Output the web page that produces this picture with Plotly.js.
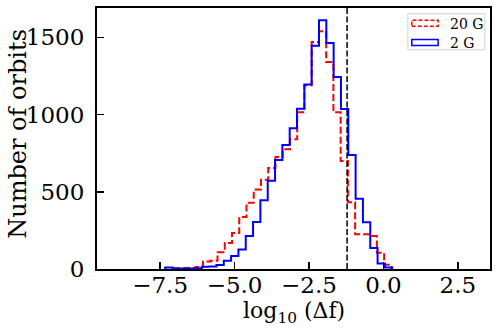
<!DOCTYPE html>
<html>
<head>
<meta charset="utf-8">
<script src="https://cdn.plot.ly/plotly-3.0.1.min.js"></script>
<style>body{margin:0;background:#fff;} #chart{width:499px;height:335px;}</style>
</head>
<body>
<div id="chart"></div>
<script>
// histogram bins, x is log10(delta f)
const redStart = -7.032, redWidth = 0.2433;
const redCounts = [5, 6, 8, 13, 49, 54, 108, 168, 233, 337, 429, 514, 578, 654, 725, 775, 840,
                   1015, 1190, 1470, 1540, 1340, 1015, 700, 432, 225, 225, 213, 106, 28];
const blueStart = -7.33, blueWidth = 0.246;
const blueCounts = [10, 4, 4, 4, 5, 14, 16, 26, 54, 84, 127, 214, 305, 445, 572, 705, 803, 911,
                    1038, 1194, 1446, 1610, 1464, 1243, 1036, 738, 455, 302, 136, 35, 10];
const cutLine = -1.22;
const seriesNames = ["20 G", "2 G"];
const xTicks = [-7.5, -5.0, -2.5, 0.0, 2.5];
const yTicks = [0, 500, 1000, 1500];
const xLabel = "log<sub>10</sub> (Δf)";
const yLabel = "Number of orbits";

function stepLine(start, width, counts){ //outline of a step histogram
    let xs = [start], ys = [0];
    for(let i = 0; i < counts.length; i++){
        xs.push(start + i*width);
        ys.push(counts[i]);
    }
    xs.push(start + counts.length*width);
    ys.push(0);
    return {x: xs, y: ys};
}

const red = stepLine(redStart, redWidth, redCounts);
const blue = stepLine(blueStart, blueWidth, blueCounts);

var data = [
    {x: red.x, y: red.y, type: "scatter", mode: "lines", name: seriesNames[0],
     line: {shape: "hv", color: "#ff0000", width: 2, dash: "7px,3px"}},
    {x: blue.x, y: blue.y, type: "scatter", mode: "lines", name: seriesNames[1],
     line: {shape: "hv", color: "#0000ff", width: 2}}
];

const serif = "DejaVu Serif";
const axisStyle = {
    showline: true, mirror: true, linecolor: "#000", linewidth: 2,
    ticks: "inside", ticklen: 7, tickwidth: 1.5, tickcolor: "#000",
    showgrid: false, zeroline: false,
    tickfont: {family: serif, size: 23, color: "#000"}
};

// hand made legend, box + patches in paper coords
const legendShapes = [
    {type: "rect", xref: "paper", yref: "paper", x0: 0.791, x1: 0.987, y0: 0.84, y1: 0.978,
     line: {color: "#d0d0d0", width: 1}, fillcolor: "rgba(255,255,255,0.8)"},
    {type: "rect", xref: "paper", yref: "paper", x0: 0.801, x1: 0.868, y0: 0.93, y1: 0.953,
     line: {color: "#ff0000", width: 1.5, dash: "4px,2px"}},
    {type: "rect", xref: "paper", yref: "paper", x0: 0.801, x1: 0.868, y0: 0.856, y1: 0.879,
     line: {color: "#0000ff", width: 1.5}}
];

const layout = {
    width: 499, height: 335,
    margin: {l: 97, r: 9, t: 8, b: 66},
    paper_bgcolor: "#fff", plot_bgcolor: "#fff",
    showlegend: false,
    xaxis: Object.assign({}, axisStyle, {
        range: [-9.62, 3.58], tickvals: xTicks, tickformat: ".1f", ticklabelstandoff: -6
    }),
    yaxis: Object.assign({}, axisStyle, {
        range: [0, 1690], tickvals: yTicks, ticklabelstandoff: 6
    }),
    shapes: [
        {type: "line", xref: "x", yref: "paper", x0: cutLine, x1: cutLine, y0: 0, y1: 1,
         line: {color: "#000", width: 1.5, dash: "6px,2.5px"}}
    ].concat(legendShapes),
    annotations: [
        // axis titles placed by hand
        {xref: "paper", yref: "paper", x: 0.5, y: -0.166, xanchor: "center", yanchor: "middle",
         text: xLabel, showarrow: false, font: {family: serif, size: 22, color: "#000"}},
        {xref: "paper", yref: "paper", x: -0.201, y: 0.518, xanchor: "center", yanchor: "middle",
         textangle: -90, text: yLabel, showarrow: false, font: {family: serif, size: 24, color: "#000"}},
        {xref: "paper", yref: "paper", x: 0.893, y: 0.94, xanchor: "left", yanchor: "middle",
         text: seriesNames[0], showarrow: false, font: {family: serif, size: 14, color: "#000"}},
        {xref: "paper", yref: "paper", x: 0.893, y: 0.866, xanchor: "left", yanchor: "middle",
         text: seriesNames[1], showarrow: false, font: {family: serif, size: 14, color: "#000"}}
    ]
};

Plotly.newPlot("chart", data, layout, {staticPlot: true});
</script>
</body>
</html>
